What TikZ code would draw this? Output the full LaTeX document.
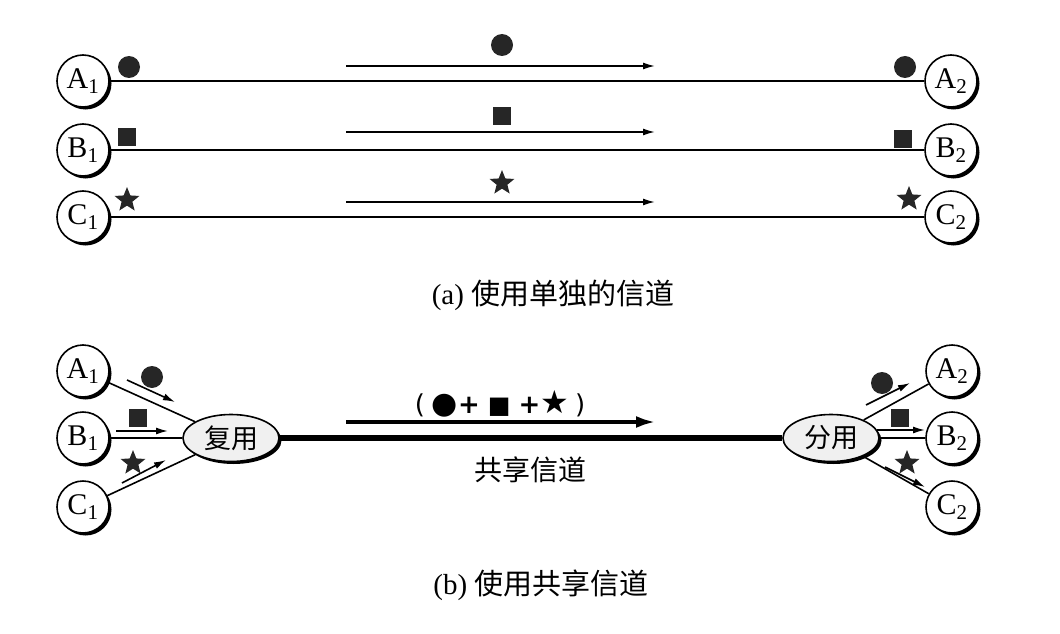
\documentclass[tikz,border=0pt]{standalone}
\usepackage{fontspec}
\setmainfont{Liberation Serif}
\newfontfamily\cjk{Noto Sans CJK SC}
\newfontfamily\dejavu{DejaVu Sans}
\usetikzlibrary{arrows.meta,shapes.geometric,shadows}
\begin{document}
\begin{tikzpicture}[x=1pt,y=-1pt,
  station/.style={circle,draw,line width=1.6pt,fill=white,minimum size=52pt,inner sep=0pt,
    font=\fontsize{30}{32}\selectfont,
    drop shadow={shadow xshift=2.5pt,shadow yshift=-2.5pt,fill=black,opacity=1}},
  muxbox/.style={ellipse,draw,line width=1.6pt,fill=gray!12,minimum width=96pt,minimum height=47pt,inner sep=0pt,
    font=\cjk\fontsize{27}{29}\selectfont,
    drop shadow={shadow xshift=2.5pt,shadow yshift=-2.5pt,fill=black,opacity=1}},
  dot/.style={circle,fill=black!85,minimum size=22pt,inner sep=0pt},
  sq/.style={rectangle,fill=black!85,minimum size=18pt,inner sep=0pt},
  starsym/.style={star,star points=5,star point ratio=2.3,fill=black!85,minimum size=26pt,inner sep=0pt},
  chan/.style={line width=1.6pt},
  thinarrow/.style={line width=1.6pt,-{Latex[length=12pt,width=7pt]}},
  captext/.style={font=\fontsize{29}{32}\selectfont}
]
\useasboundingbox (0,0) rectangle (1060,634);

% ---------- (a) separate channels ----------
\node[station] (tA1) at (83,81) {A\textsubscript{1}};
\node[station] (tB1) at (83,150) {B\textsubscript{1}};
\node[station] (tC1) at (83,217) {C\textsubscript{1}};
\node[station] (tA2) at (951,81) {A\textsubscript{2}};
\node[station] (tB2) at (951,150) {B\textsubscript{2}};
\node[station] (tC2) at (951,217) {C\textsubscript{2}};

\draw[chan] (tA1) -- (tA2);
\draw[chan] (tB1) -- (tB2);
\draw[chan] (tC1) -- (tC2);

\coordinate (aS1) at (346,66);  \coordinate (aE1) at (655,66);
\coordinate (aS2) at (346,132); \coordinate (aE2) at (655,132);
\coordinate (aS3) at (346,202); \coordinate (aE3) at (655,202);
\draw[thinarrow] (aS1) -- (aE1);
\draw[thinarrow] (aS2) -- (aE2);
\draw[thinarrow] (aS3) -- (aE3);

\node[dot] (dl) at (129,67) {};
\node[sq] (sl) at (127,137) {};
\node[starsym] (stl) at (127,200) {};
\node[dot] (dm) at (502,45) {};
\node[sq] (sm) at (502,116) {};
\node[starsym] (stm) at (502,183) {};
\node[dot] (dr) at (905,67) {};
\node[sq] (sr) at (903,139) {};
\node[starsym] (str) at (909,199) {};

\node[captext] (capa) at (553,295) {(a) {\cjk 使用单独的信道}};

% ---------- (b) shared channel ----------
\node[station] (bA1) at (83,371) {A\textsubscript{1}};
\node[station] (bB1) at (83,438) {B\textsubscript{1}};
\node[station] (bC1) at (83,507) {C\textsubscript{1}};
\node[station] (bA2) at (952,371) {A\textsubscript{2}};
\node[station] (bB2) at (952,438) {B\textsubscript{2}};
\node[station] (bC2) at (952,507) {C\textsubscript{2}};

\node[muxbox] (mux) at (231,438) {复用};
\node[muxbox] (demux) at (831,438) {分用};

\draw[chan] (bA1) -- (mux);
\draw[chan] (bB1) -- (mux);
\draw[chan] (bC1) -- (mux);
\draw[chan] (demux) -- (bA2);
\draw[chan] (demux) -- (bB2);
\draw[chan] (demux) -- (bC2);
\draw[line width=5.5pt] (mux) -- (demux);

% small arrows left
\coordinate (lAs) at (127,380); \coordinate (lAe) at (175,402);
\coordinate (lBs) at (116,431); \coordinate (lBe) at (168,431);
\coordinate (lCs) at (122,483); \coordinate (lCe) at (166,460);
\draw[thinarrow] (lAs) -- (lAe);
\draw[thinarrow] (lBs) -- (lBe);
\draw[thinarrow] (lCs) -- (lCe);
\node[dot] (dl2) at (152,377) {};
\node[sq] (sl2) at (138,418) {};
\node[starsym] (stl2) at (133,463) {};

% small arrows right
\coordinate (rAs) at (866,405); \coordinate (rAe) at (910,383);
\coordinate (rBs) at (877,430); \coordinate (rBe) at (925,430);
\coordinate (rCs) at (885,467); \coordinate (rCe) at (925,487);
\draw[thinarrow] (rAs) -- (rAe);
\draw[thinarrow] (rBs) -- (rBe);
\draw[thinarrow] (rCs) -- (rCe);
\node[dot] (dr2) at (882,383) {};
\node[sq] (sr2) at (900,418) {};
\node[starsym] (str2) at (907,463) {};

% shared channel arrow
\coordinate (sS) at (346,422); \coordinate (sE) at (656,422);
\draw[line width=4pt,-{Latex[length=20pt,width=12pt]}] (sS) -- (sE);
\node[font=\dejavu\fontsize{26}{30}\selectfont,inner sep=0pt] (mix) at (500,404)
  {(\hspace{7pt}{\fontsize{30}{30}\selectfont ●}\textbf{+}\hspace{8pt}{\fontsize{24}{30}\selectfont ■}\hspace{8pt}\textbf{+}{\fontsize{32}{30}\selectfont ★}\hspace{6pt})};
\node[font=\cjk\fontsize{28}{30}\selectfont] (shared) at (530,470) {共享信道};

\node[captext] (capb) at (541,585) {(b) {\cjk 使用共享信道}};
\end{tikzpicture}
\end{document}
